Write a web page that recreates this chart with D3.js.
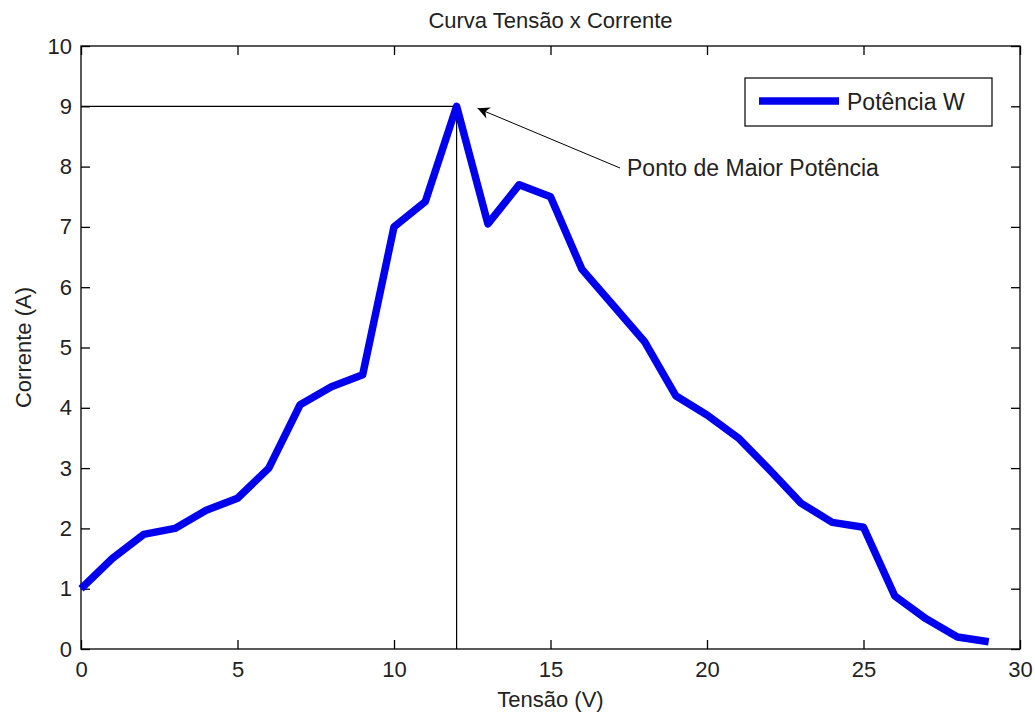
<!DOCTYPE html>
<html>
<head>
<meta charset="utf-8">
<script src="https://cdn.jsdelivr.net/npm/d3@7"></script>
<style>
  body { margin: 0; background: #fff; }
  svg text { font-family: "Liberation Sans", Arial, sans-serif; fill: #222; }
</style>
</head>
<body>
<div id="chart"></div>
<script>
// data
var tensao = [0, 1, 2, 3, 4, 5, 6, 7, 8, 9, 10, 11, 12, 13, 14,
              15, 16, 17, 18, 19, 20, 21, 22, 23, 24, 25, 26, 27, 28, 29];
var corrente = [1.0, 1.5, 1.9, 2.0, 2.3, 2.5, 3.0, 4.05, 4.35, 4.55, 7.0, 7.42, 9.0, 7.05, 7.7,
                7.5, 6.3, 5.7, 5.1, 4.2, 3.88, 3.5, 2.97, 2.42, 2.1, 2.02, 0.88, 0.5, 0.2, 0.12];
var xTicks = [0, 5, 10, 15, 20, 25, 30];
var yTicks = [0, 1, 2, 3, 4, 5, 6, 7, 8, 9, 10];

var titulo = "Curva Tensão x Corrente";
var xLabel = "Tensão (V)";
var yLabel = "Corrente (A)";
var legenda = "Potência W";
var anotacao = "Ponto de Maior Potência";

var W = 1035, H = 713;
var margin = {top: 46, right: 15, bottom: 64, left: 81};
var width = W - margin.left - margin.right;
var height = H - margin.top - margin.bottom;

var svg = d3.select("#chart")
    .append("svg")
    .attr("width", W)
    .attr("height", H)
    .append("g")
    .attr("transform", "translate(" + margin.left + "," + margin.top + ")");

var x = d3.scaleLinear().domain([0, 30]).range([0, width]);
var y = d3.scaleLinear().domain([0, 10]).range([height, 0]);

// axes (ticks point inward, like matlab)
function styleAxis(g) {
    g.select(".domain").remove();
    g.selectAll("line").attr("stroke", "#000").attr("stroke-width", 1.3);
}

svg.append("g")
    .attr("transform", "translate(0," + height + ")")
    .call(d3.axisBottom(x).tickValues(xTicks).tickSizeInner(-9).tickSizeOuter(0).tickPadding(12))
    .call(styleAxis)
    .selectAll("text")
    .style("font-size", "22px");

svg.append("g")
    .call(d3.axisTop(x).tickValues(xTicks).tickSizeInner(-9).tickSizeOuter(0).tickFormat(""))
    .call(styleAxis);

svg.append("g")
    .call(d3.axisLeft(y).tickValues(yTicks).tickSizeInner(-9).tickSizeOuter(0).tickPadding(9))
    .call(styleAxis)
    .selectAll("text")
    .style("font-size", "22px");

svg.append("g")
    .attr("transform", "translate(" + width + ",0)")
    .call(d3.axisRight(y).tickValues(yTicks).tickSizeInner(-9).tickSizeOuter(0).tickFormat(""))
    .call(styleAxis);

svg.append("rect")
    .attr("width", width)
    .attr("height", height)
    .attr("fill", "none")
    .attr("stroke", "#000")
    .attr("stroke-width", 1.3);

// guide lines to the peak
var iMax = d3.maxIndex(corrente);
svg.append("line")
    .attr("x1", x(0)).attr("x2", x(tensao[iMax]))
    .attr("y1", y(corrente[iMax])).attr("y2", y(corrente[iMax]))
    .attr("stroke", "#000").attr("stroke-width", 1.2);
svg.append("line")
    .attr("x1", x(tensao[iMax])).attr("x2", x(tensao[iMax]))
    .attr("y1", y(corrente[iMax])).attr("y2", y(0))
    .attr("stroke", "#000").attr("stroke-width", 1.2);

// the curve
var pts = tensao.map(function (d, i) { return [d, corrente[i]]; });
var line = d3.line()
    .x(function (d) { return x(d[0]); })
    .y(function (d) { return y(d[1]); });

svg.append("path")
    .datum(pts)
    .attr("d", line)
    .attr("fill", "none")
    .attr("stroke", "#0000ee")
    .attr("stroke-width", 7.5)
    .attr("stroke-linejoin", "round");

// arrow annotation
svg.append("defs").append("marker")
    .attr("id", "seta")
    .attr("viewBox", "0 0 10 10")
    .attr("refX", 10).attr("refY", 5)
    .attr("markerWidth", 18).attr("markerHeight", 12)
    .attr("markerUnits", "userSpaceOnUse")
    .attr("orient", "auto")
    .append("path")
    .attr("d", "M0,0 L10,5 L0,10 L3,5 Z")
    .attr("fill", "#000");

var tipX = x(tensao[iMax]) + 21, tipY = y(corrente[iMax]) + 2;
svg.append("line")
    .attr("x1", 539).attr("y1", 122)
    .attr("x2", tipX).attr("y2", tipY)
    .attr("stroke", "#000").attr("stroke-width", 1)
    .attr("marker-end", "url(#seta)");

svg.append("text")
    .attr("x", 546).attr("y", 130)
    .style("font-size", "23px")
    .text(anotacao);

// legend
var leg = svg.append("g").attr("transform", "translate(664,32)");
leg.append("rect")
    .attr("width", 247).attr("height", 48)
    .attr("fill", "#fff").attr("stroke", "#000").attr("stroke-width", 1.2);
leg.append("line")
    .attr("x1", 14).attr("x2", 94).attr("y1", 23).attr("y2", 23)
    .attr("stroke", "#0000ee").attr("stroke-width", 7.5);
leg.append("text")
    .attr("x", 102).attr("y", 32)
    .style("font-size", "23px")
    .text(legenda);

// titles
svg.append("text")
    .attr("x", width / 2).attr("y", -18)
    .attr("text-anchor", "middle")
    .style("font-size", "22px")
    .text(titulo);

svg.append("text")
    .attr("x", width / 2).attr("y", height + 58)
    .attr("text-anchor", "middle")
    .style("font-size", "22px")
    .text(xLabel);

svg.append("text")
    .attr("transform", "translate(-50," + (height / 2) + ") rotate(-90)")
    .attr("text-anchor", "middle")
    .style("font-size", "22px")
    .text(yLabel);
</script>
</body>
</html>
